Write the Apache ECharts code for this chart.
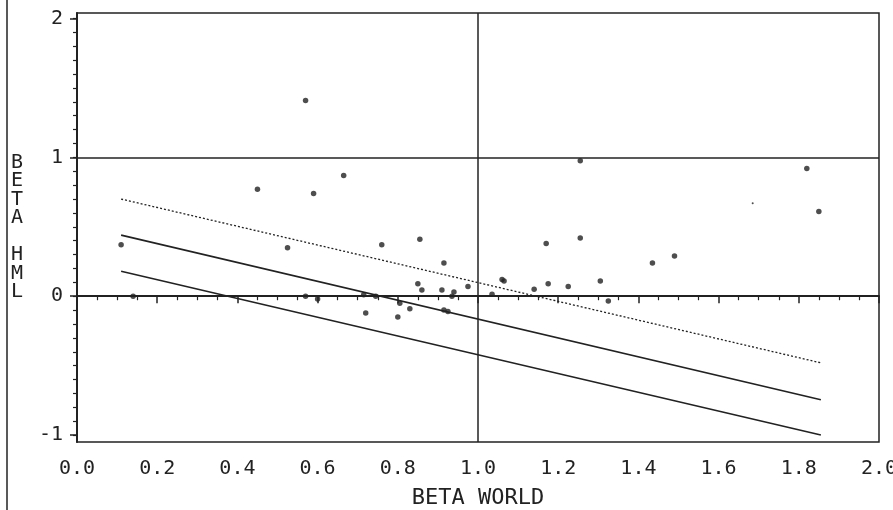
<!DOCTYPE html>
<html>
<head>
<meta charset="utf-8">
<script src="https://cdn.jsdelivr.net/npm/echarts@6/dist/echarts.min.js"></script>
<style>
  html, body { margin: 0; padding: 0; background: #fff; }
  #chart { width: 893px; height: 510px; }
</style>
</head>
<body>
<div id="chart"></div>
<script>
// scatter points: [beta world, beta hml]
const points = [
  [0.11, 0.37], [0.14, 0.0], [0.45, 0.77], [0.525, 0.35], [0.57, 1.41],
  [0.59, 0.74], [0.57, 0.0], [0.60, -0.02], [0.665, 0.87], [0.715, 0.01],
  [0.72, -0.12], [0.745, 0.0], [0.76, 0.37], [0.80, -0.15], [0.805, -0.05],
  [0.83, -0.09], [0.85, 0.09], [0.855, 0.41], [0.86, 0.045], [0.91, 0.045],
  [0.915, 0.24], [0.915, -0.10], [0.925, -0.11], [0.935, 0.0], [0.94, 0.03],
  [0.975, 0.07], [1.035, 0.015], [1.06, 0.12], [1.065, 0.11], [1.14, 0.05],
  [1.17, 0.38], [1.175, 0.09], [1.225, 0.07], [1.255, 0.42], [1.255, 0.975],
  [1.305, 0.11], [1.325, -0.035], [1.435, 0.24], [1.49, 0.29], [1.82, 0.92],
  [1.85, 0.61]
]
const faintPoints = [[1.685, 0.67]]

// fitted lines (start / end)
const upperLine = [[0.11, 0.70], [1.855, -0.48]]
const middleLine = [[0.11, 0.44], [1.855, -0.745]]
const lowerLine = [[0.11, 0.18], [1.855, -1.0]]

const refLinesX = [1]
const refLinesY = [0, 1]

const yTicks = [-1, 0, 1, 2]
const yMinorTicks = []
for (let i = -10; i <= 20; i++) yMinorTicks.push(i / 10)

const ink = '#222'
const tickFont = { fontFamily: 'DejaVu Sans Mono', fontSize: 20, color: ink }

const chart = echarts.init(document.getElementById('chart'))

const lineSeries = (data, type) => ({
  type: 'line',
  data: data,
  symbol: 'none',
  silent: true,
  animation: false,
  lineStyle: { color: ink, width: type === 'solid' ? 1.6 : 1.3, type: type }
})

chart.setOption({
  backgroundColor: '#fff',
  animation: false,
  grid: {
    left: 77, right: 14, top: 13, bottom: 68,
    outerBoundsMode: 'none',
    show: true, borderColor: ink, borderWidth: 1.5, backgroundColor: 'transparent'
  },
  xAxis: {
    type: 'value',
    min: 0,
    max: 2,
    interval: 0.2,
    name: 'BETA WORLD',
    nameLocation: 'middle',
    nameGap: 45,
    nameTextStyle: { fontFamily: 'DejaVu Sans Mono', fontSize: 22, color: ink },
    axisLine: { lineStyle: { color: ink, width: 2 } },
    axisTick: { length: 7, lineStyle: { color: ink, width: 1.5 } },
    minorTick: { show: true, splitNumber: 4, length: 4, lineStyle: { color: ink, width: 1.2 } },
    axisLabel: { ...tickFont, margin: 17, formatter: v => v.toFixed(1) },
    splitLine: { show: false }
  },
  yAxis: [
    {
      type: 'value',
      min: -1.05,
      max: 2.04,
      name: 'B\nE\nT\nA\n\nH\nM\nL',
      nameLocation: 'middle',
      nameRotate: 0,
      nameGap: 54,
      nameTextStyle: { fontFamily: 'DejaVu Sans Mono', fontSize: 20, lineHeight: 18.5, color: ink },
      axisLine: { show: true, lineStyle: { color: ink, width: 2 } },
      axisTick: { show: true, length: 7, customValues: yTicks, lineStyle: { color: ink, width: 1.5 } },
      axisLabel: { ...tickFont, margin: 14, customValues: yTicks, formatter: v => String(v) },
      splitLine: { show: false }
    },
    {
      type: 'value',
      min: -1.05,
      max: 2.04,
      position: 'left',
      axisLine: { show: false },
      axisTick: { show: true, length: 4, customValues: yMinorTicks, lineStyle: { color: ink, width: 1.2 } },
      axisLabel: { show: false },
      splitLine: { show: false }
    }
  ],
  graphic: [
    { type: 'line', shape: { x1: 7, y1: 0, x2: 7, y2: 510 }, style: { stroke: ink, lineWidth: 1.5 } }
  ],
  series: [
    {
      type: 'scatter',
      data: points,
      symbolSize: 5.5,
      itemStyle: { color: ink },
      silent: true,
      markLine: {
        silent: true,
        symbol: 'none',
        label: { show: false },
        lineStyle: { color: ink, width: 1.5, type: 'solid' },
        data: [
          ...refLinesY.map(v => ({ yAxis: v })),
          ...refLinesX.map(v => ({ xAxis: v }))
        ]
      }
    },
    {
      type: 'scatter',
      data: faintPoints,
      symbolSize: 2,
      itemStyle: { color: ink },
      silent: true
    },
    lineSeries(upperLine, [2, 2]),
    lineSeries(middleLine, 'solid'),
    lineSeries(lowerLine, 'solid')
  ]
})
</script>
</body>
</html>
